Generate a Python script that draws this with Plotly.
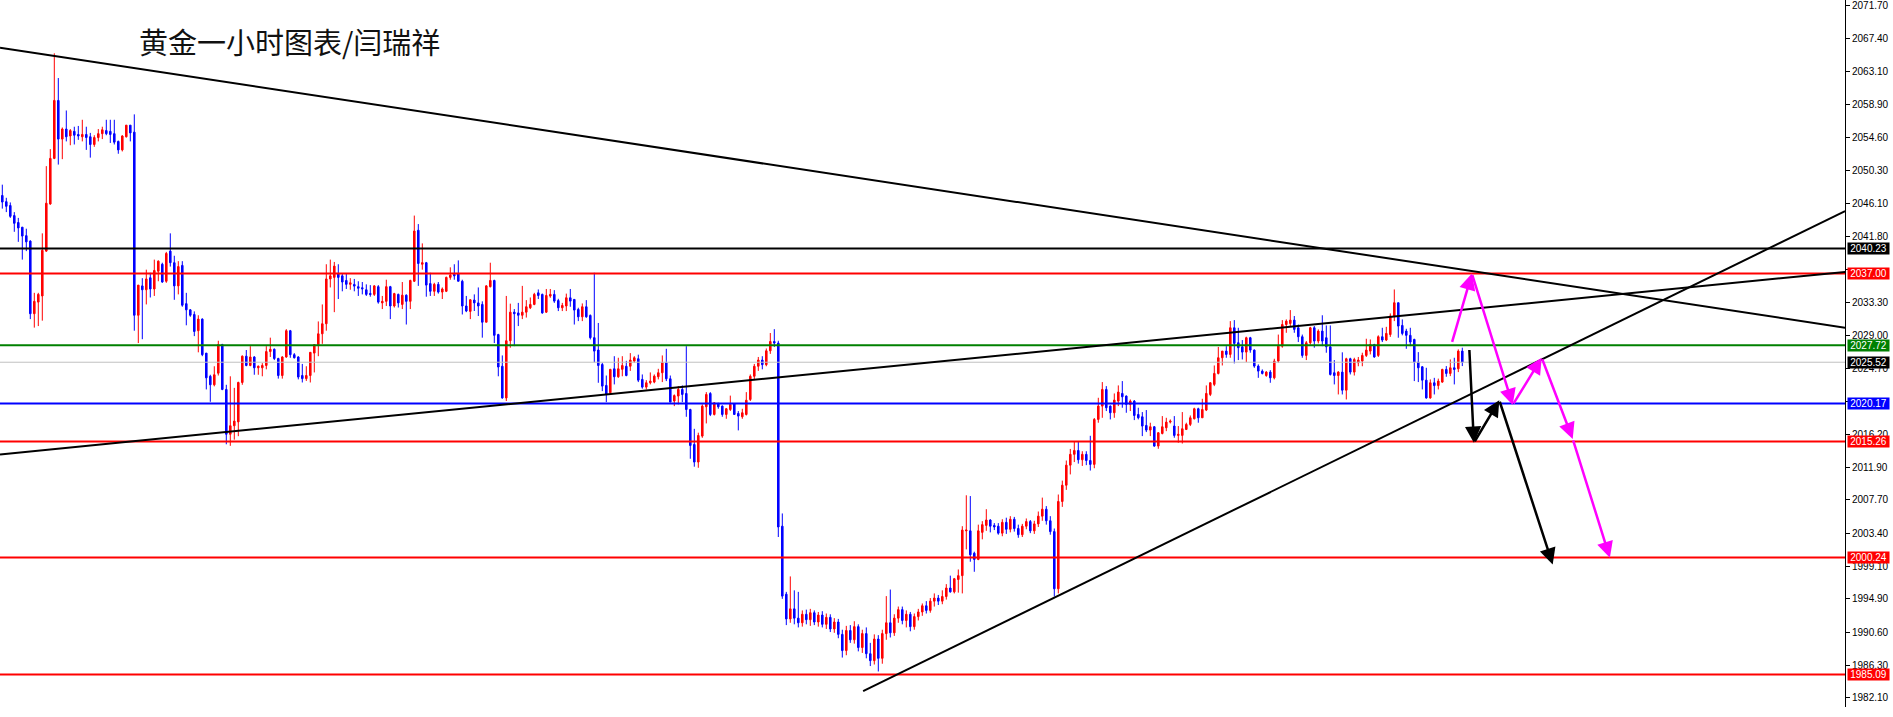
import plotly.graph_objects as go

# ---------------- candle data (hourly gold) ----------------
OPEN = [
 2047.1, 2046.3, 2045.8, 2044.5, 2043.6, 2043.0, 2041.9, 2041.2, 2031.8, 2033.3,
 2034.1, 2039.9, 2046.0, 2051.9, 2059.4, 2054.4, 2055.7, 2054.8, 2055.4, 2055.0,
 2054.7, 2055.0, 2054.7, 2053.7, 2054.6, 2055.1, 2055.5, 2055.4, 2055.1, 2054.1,
 2053.0, 2054.7, 2056.2, 2055.3, 2031.6, 2035.4, 2034.9, 2036.45, 2035.0, 2037.3,
 2038.2, 2036.0, 2039.9, 2038.4, 2035.4, 2038.05, 2033.1, 2032.3, 2031.7, 2029.6,
 2031.1, 2026.7, 2023.7, 2022.6, 2024.1, 2027.8, 2022.0, 2016.2, 2017.3, 2017.8,
 2022.9, 2026.3, 2025.1, 2026.2, 2024.8, 2024.8, 2025.1, 2026.9, 2027.2, 2026.0,
 2023.8, 2026.2, 2029.6, 2026.5, 2026.2, 2023.8, 2023.4, 2023.8, 2026.7, 2027.8,
 2029.2, 2030.5, 2036.3, 2036.5, 2037.0, 2036.7, 2036.1, 2035.6, 2035.59, 2035.3,
 2035.16, 2034.9, 2034.42, 2034.3, 2035.3, 2033.2, 2033.4, 2035.3, 2032.8, 2034.3,
 2033.0, 2034.2, 2033.4, 2036.0, 2042.6, 2038.2, 2038.4, 2035.7, 2034.7, 2035.6,
 2034.6, 2034.7, 2036.5, 2036.9, 2037.0, 2036.0, 2032.8, 2032.1, 2033.57, 2033.2,
 2033.0, 2030.7, 2035.3, 2036.1, 2029.1, 2025.0, 2020.9, 2028.3, 2032.0, 2031.9,
 2031.6, 2032.0, 2032.57, 2033.0, 2034.5, 2034.3, 2032.0, 2034.08, 2034.3, 2033.5,
 2032.57, 2032.8, 2033.86, 2033.65, 2032.35, 2031.4, 2032.7, 2031.58, 2028.7, 2027.1,
 2025.23, 2022.52, 2021.57, 2024.67, 2023.64, 2024.6, 2025.0, 2025.0, 2025.67, 2025.97,
 2023.3, 2022.3, 2022.86, 2022.95, 2023.64, 2024.16, 2025.45, 2023.38, 2020.5, 2021.14,
 2022.0, 2021.48, 2019.4, 2014.88, 2012.6, 2015.96, 2019.75, 2021.48, 2018.76, 2020.19,
 2019.84, 2018.76, 2019.4, 2020.14, 2018.9, 2018.46, 2018.76, 2020.7, 2023.7, 2025.0,
 2025.8, 2025.2, 2027.0, 2028.2, 2028.0, 2004.3, 1995.5, 1992.3, 1993.6, 1992.4,
 1991.8, 1992.9, 1992.2, 1993.1, 1991.9, 1992.8, 1991.6, 1992.5, 1991.0, 1991.9,
 1990.3, 1988.2, 1990.8, 1989.6, 1991.3, 1988.6, 1990.4, 1987.8, 1986.9, 1989.7,
 1987.2, 1990.4, 1991.8, 1990.5, 1992.4, 1993.5, 1992.1, 1992.9, 1991.3, 1992.6,
 1993.2, 1994.0, 1993.4, 1994.6, 1995.0, 1994.6, 1995.2, 1996.3, 1995.8, 1997.4,
 1997.9, 2003.7, 2003.7, 2000.8, 2000.0, 2003.5, 2004.4, 2005.1, 2004.4, 2004.3,
 2003.4, 2004.8, 2003.9, 2005.2, 2004.0, 2003.2, 2004.3, 2004.9, 2003.7, 2004.6,
 2005.6, 2006.5, 2005.0, 2003.6, 1996.2, 2007.5, 2009.6, 2012.2, 2013.6, 2014.1,
 2012.9, 2013.6, 2012.8, 2012.3, 2018.12, 2019.84, 2022.0, 2019.84, 2018.98, 2020.49,
 2021.48, 2021.14, 2020.06, 2020.49, 2018.76, 2018.46, 2017.34, 2016.74, 2017.17, 2014.67,
 2016.3, 2017.04, 2017.77, 2017.26, 2016.05, 2016.05, 2016.82, 2017.47, 2018.2, 2019.5,
 2018.33, 2019.33, 2021.35, 2022.65, 2024.07, 2026.1, 2026.96, 2026.53, 2029.98, 2028.04,
 2027.52, 2026.83, 2028.69, 2027.09, 2025.02, 2024.37, 2023.8, 2024.24, 2023.5, 2025.67,
 2027.6, 2030.4, 2030.54, 2030.97, 2029.98, 2028.82, 2026.4, 2028.04, 2029.98, 2028.26,
 2029.55, 2028.69, 2027.52, 2024.16, 2023.8, 2024.24, 2021.9, 2025.97, 2024.24, 2025.45,
 2025.67, 2026.4, 2026.96, 2027.8, 2026.4, 2028.82, 2028.39, 2029.1, 2031.5, 2033.22,
 2030.28, 2029.55, 2029.0, 2028.47, 2025.54, 2024.93, 2023.2, 2020.9, 2022.86, 2022.5,
 2022.95, 2024.59, 2024.07, 2024.8, 2024.67, 2026.96,
]
HIGH = [
 2048.5, 2046.8, 2046.2, 2044.95, 2044.2, 2043.0, 2042.8, 2041.3, 2034.5, 2034.5,
 2042.2, 2050.9, 2053.1, 2065.5, 2062.3, 2055.9, 2058.1, 2055.7, 2056.0, 2056.1,
 2056.9, 2056.0, 2055.2, 2054.9, 2055.7, 2056.0, 2056.9, 2056.9, 2056.9, 2054.2,
 2054.9, 2056.2, 2056.2, 2057.6, 2035.5, 2036.4, 2037.5, 2037.1, 2038.8, 2038.7,
 2038.4, 2039.8, 2042.2, 2039.3, 2038.6, 2038.6, 2034.5, 2032.4, 2032.1, 2031.6,
 2031.2, 2026.7, 2023.9, 2025.0, 2028.3, 2027.9, 2022.6, 2023.7, 2022.2, 2023.0,
 2026.4, 2027.1, 2027.6, 2026.3, 2025.1, 2025.4, 2027.6, 2028.7, 2027.3, 2026.1,
 2026.3, 2029.8, 2029.7, 2026.7, 2026.3, 2025.3, 2025.0, 2026.8, 2027.8, 2030.8,
 2033.0, 2038.2, 2038.8, 2038.5, 2038.2, 2037.0, 2037.0, 2036.4, 2036.3, 2036.0,
 2035.9, 2035.6, 2035.5, 2035.5, 2035.5, 2034.1, 2036.2, 2035.4, 2034.5, 2034.4,
 2035.9, 2034.3, 2036.2, 2044.5, 2043.4, 2040.9, 2038.5, 2037.1, 2035.8, 2035.9,
 2035.2, 2036.6, 2037.8, 2038.2, 2038.7, 2036.2, 2034.1, 2033.7, 2034.3, 2035.2,
 2033.4, 2035.5, 2038.4, 2036.2, 2029.2, 2026.4, 2034.1, 2033.1, 2032.4, 2033.2,
 2035.4, 2033.56, 2033.9, 2034.5, 2034.94, 2034.4, 2035.0, 2035.0, 2034.85, 2033.73,
 2033.2, 2034.4, 2035.0, 2033.7, 2032.57, 2033.13, 2033.56, 2031.7, 2037.1, 2030.6,
 2025.45, 2023.8, 2024.67, 2026.3, 2026.1, 2026.3, 2025.7, 2026.7, 2026.3, 2026.5,
 2023.94, 2023.2, 2024.2, 2023.94, 2024.67, 2026.4, 2027.26, 2023.8, 2021.35, 2022.43,
 2022.52, 2027.6, 2019.5, 2016.9, 2016.4, 2020.06, 2021.65, 2021.65, 2020.36, 2020.27,
 2019.93, 2019.6, 2021.2, 2020.19, 2019.2, 2019.5, 2021.65, 2023.94, 2025.3, 2026.2,
 2026.3, 2027.3, 2029.3, 2029.8, 2028.3, 2005.95, 1995.8, 1997.8, 1996.0, 1995.8,
 1993.4, 1993.5, 1993.6, 1993.4, 1993.2, 1993.3, 1993.0, 1992.9, 1992.4, 1992.3,
 1990.9, 1991.4, 1991.5, 1992.0, 1991.6, 1990.9, 1991.2, 1989.2, 1990.3, 1990.2,
 1990.9, 1995.25, 1996.1, 1992.9, 1993.9, 1993.9, 1993.4, 1993.2, 1993.0, 1993.6,
 1994.3, 1994.6, 1995.0, 1995.6, 1995.4, 1996.0, 1996.8, 1997.9, 1997.6, 1998.7,
 2004.3, 2008.3, 2008.2, 2001.0, 2004.5, 2004.95, 2006.5, 2005.2, 2004.7, 2004.7,
 2005.2, 2005.4, 2005.6, 2005.5, 2004.5, 2004.6, 2005.3, 2005.1, 2005.0, 2006.2,
 2008.0, 2006.9, 2005.6, 2004.0, 2008.4, 2010.2, 2012.8, 2014.3, 2015.2, 2015.2,
 2014.0, 2014.0, 2016.0, 2018.3, 2020.92, 2022.95, 2022.43, 2019.93, 2021.48, 2022.52,
 2023.08, 2021.22, 2020.7, 2020.62, 2019.63, 2019.07, 2019.33, 2017.69, 2017.26, 2016.48,
 2018.55, 2018.33, 2018.12, 2018.55, 2017.26, 2019.07, 2017.69, 2018.63, 2019.63, 2019.63,
 2020.79, 2022.52, 2022.95, 2025.1, 2027.5, 2026.96, 2027.6, 2030.84, 2030.97, 2029.98,
 2028.39, 2028.82, 2028.8, 2027.18, 2025.24, 2024.59, 2024.37, 2024.5, 2025.97, 2029.1,
 2030.97, 2031.06, 2032.27, 2031.5, 2030.4, 2029.1, 2028.26, 2030.1, 2030.2, 2029.77,
 2031.6, 2030.28, 2030.28, 2025.8, 2024.37, 2026.8, 2026.1, 2026.1, 2026.1, 2026.2,
 2026.75, 2028.56, 2028.47, 2027.9, 2029.0, 2029.98, 2030.1, 2031.84, 2034.94, 2033.22,
 2031.06, 2029.85, 2029.98, 2028.56, 2026.83, 2025.02, 2024.8, 2023.3, 2023.5, 2023.4,
 2024.67, 2025.02, 2025.88, 2026.1, 2027.18, 2027.4,
]
LOW = [
 2045.4, 2044.95, 2044.2, 2042.4, 2041.1, 2038.8, 2039.9, 2031.1, 2030.0, 2030.2,
 2030.9, 2039.8, 2045.9, 2051.8, 2051.1, 2051.8, 2054.1, 2053.6, 2053.7, 2054.3,
 2054.1, 2053.0, 2052.0, 2053.4, 2054.1, 2054.4, 2054.9, 2053.9, 2053.7, 2052.5,
 2052.8, 2054.6, 2054.1, 2029.6, 2028.0, 2028.5, 2033.0, 2033.9, 2034.1, 2036.0,
 2035.8, 2035.8, 2037.9, 2033.6, 2034.3, 2032.7, 2030.3, 2031.4, 2028.9, 2026.8,
 2026.3, 2022.0, 2020.4, 2022.4, 2023.8, 2021.9, 2014.9, 2014.7, 2015.5, 2015.95,
 2022.6, 2025.0, 2025.0, 2023.9, 2023.9, 2023.7, 2024.6, 2026.2, 2025.8, 2023.4,
 2023.4, 2026.1, 2026.1, 2026.0, 2023.3, 2022.9, 2023.1, 2022.9, 2024.2, 2026.3,
 2027.9, 2029.6, 2035.2, 2032.0, 2033.7, 2034.7, 2035.0, 2034.9, 2034.7, 2034.1,
 2034.3, 2034.1, 2034.0, 2034.1, 2033.1, 2032.4, 2032.8, 2031.1, 2032.6, 2032.6,
 2032.4, 2030.4, 2032.4, 2035.9, 2035.4, 2037.5, 2034.0, 2034.1, 2034.1, 2034.4,
 2033.7, 2034.6, 2036.2, 2036.2, 2036.0, 2031.7, 2032.0, 2031.1, 2032.15, 2031.5,
 2028.7, 2030.7, 2035.2, 2028.0, 2023.7, 2020.8, 2020.5, 2027.4, 2027.6, 2030.2,
 2031.1, 2031.3, 2032.4, 2032.9, 2033.7, 2031.8, 2031.9, 2033.86, 2033.2, 2032.14,
 2032.14, 2032.14, 2032.7, 2030.4, 2030.84, 2030.84, 2031.27, 2028.47, 2025.5, 2022.86,
 2021.78, 2020.36, 2021.35, 2022.65, 2023.5, 2023.7, 2023.7, 2024.4, 2025.45, 2022.95,
 2022.1, 2022.0, 2022.65, 2022.8, 2023.3, 2022.95, 2023.08, 2020.36, 2019.84, 2020.06,
 2020.36, 2018.46, 2013.03, 2012.0, 2011.86, 2015.74, 2017.6, 2018.55, 2018.63, 2019.5,
 2018.46, 2018.2, 2019.2, 2018.76, 2016.7, 2018.2, 2018.63, 2020.5, 2023.2, 2024.4,
 2024.6, 2025.0, 2026.6, 2027.5, 2002.9, 1994.9, 1991.5, 1991.8, 1991.6, 1991.2,
 1991.3, 1991.6, 1991.4, 1991.5, 1991.3, 1991.2, 1991.0, 1990.6, 1990.5, 1989.8,
 1987.3, 1987.6, 1989.2, 1989.1, 1988.1, 1987.9, 1987.2, 1986.2, 1986.4, 1985.5,
 1986.5, 1989.6, 1989.9, 1990.1, 1991.8, 1991.6, 1991.2, 1990.7, 1990.9, 1992.1,
 1992.7, 1993.0, 1993.1, 1993.9, 1994.1, 1994.2, 1994.8, 1995.7, 1995.6, 1995.7,
 1995.6, 2001.3, 1999.7, 1998.4, 1999.9, 2002.6, 2003.7, 2003.5, 2003.8, 2003.2,
 2003.0, 2003.3, 2003.5, 2003.6, 2002.8, 2002.9, 2003.9, 2003.4, 2003.3, 2004.2,
 2005.0, 2004.5, 2003.2, 1995.2, 1995.6, 2006.8, 2009.0, 2011.0, 2012.6, 2012.4,
 2012.1, 2012.2, 2011.5, 2011.8, 2017.69, 2018.33, 2019.2, 2018.12, 2018.33, 2019.84,
 2019.63, 2018.98, 2019.2, 2018.03, 2018.12, 2015.96, 2016.48, 2015.96, 2014.58, 2014.32,
 2016.18, 2016.6, 2017.6, 2015.75, 2015.1, 2015.0, 2016.74, 2017.26, 2018.12, 2017.69,
 2018.33, 2019.2, 2021.14, 2022.43, 2023.94, 2025.1, 2026.1, 2026.1, 2025.37, 2025.8,
 2025.88, 2025.54, 2026.75, 2024.8, 2023.5, 2023.94, 2023.64, 2022.86, 2023.3, 2025.45,
 2027.4, 2029.33, 2030.2, 2029.33, 2028.13, 2026.1, 2025.8, 2027.8, 2027.4, 2027.96,
 2027.6, 2026.75, 2023.8, 2022.65, 2021.35, 2021.35, 2020.7, 2023.94, 2023.8, 2025.0,
 2025.0, 2026.2, 2026.53, 2026.1, 2026.2, 2028.13, 2028.26, 2028.8, 2030.84, 2028.69,
 2029.0, 2027.26, 2027.6, 2023.08, 2022.95, 2022.0, 2020.8, 2020.8, 2021.35, 2022.0,
 2022.86, 2023.64, 2023.72, 2022.65, 2024.24, 2025.02,
]
CLOSE = [
 2046.25, 2045.7, 2044.4, 2043.5, 2042.9, 2041.85, 2041.1, 2031.8, 2033.4, 2034.3,
 2040.0, 2046.1, 2051.9, 2059.4, 2054.4, 2055.7, 2054.7, 2055.5, 2054.9, 2054.8,
 2055.0, 2054.6, 2053.7, 2054.6, 2055.1, 2055.6, 2055.1, 2055.0, 2054.0, 2053.0,
 2054.8, 2056.2, 2055.2, 2031.6, 2035.5, 2034.9, 2036.3, 2035.0, 2037.4, 2038.6,
 2035.9, 2039.6, 2038.4, 2035.4, 2037.9, 2032.9, 2032.3, 2031.6, 2029.5, 2031.1,
 2026.5, 2023.5, 2022.6, 2023.9, 2027.8, 2022.0, 2016.2, 2017.3, 2017.9, 2022.9,
 2026.3, 2025.1, 2026.2, 2024.8, 2025.0, 2025.1, 2026.9, 2027.2, 2026.0, 2023.8,
 2026.2, 2029.6, 2026.5, 2026.1, 2023.6, 2023.4, 2023.8, 2026.8, 2027.8, 2029.2,
 2030.5, 2036.3, 2036.7, 2037.96, 2036.5, 2035.9, 2035.6, 2035.8, 2035.37, 2035.1,
 2035.03, 2034.3, 2034.29, 2035.4, 2033.3, 2033.4, 2035.3, 2032.8, 2034.4, 2033.2,
 2034.2, 2033.4, 2036.1, 2042.5, 2038.3, 2038.4, 2035.5, 2034.7, 2035.6, 2034.6,
 2035.0, 2036.5, 2036.8, 2036.7, 2036.0, 2032.8, 2032.15, 2033.6, 2033.2, 2032.8,
 2030.7, 2035.4, 2036.1, 2029.0, 2024.9, 2020.9, 2028.3, 2032.0, 2031.8, 2031.6,
 2032.0, 2032.7, 2033.0, 2034.3, 2034.16, 2031.9, 2034.16, 2034.3, 2033.43, 2032.57,
 2032.87, 2033.86, 2033.43, 2032.27, 2031.4, 2032.7, 2031.4, 2028.7, 2026.96, 2025.1,
 2022.43, 2021.35, 2024.59, 2023.64, 2024.67, 2025.1, 2023.8, 2025.8, 2026.1, 2023.2,
 2022.3, 2022.86, 2023.08, 2023.72, 2024.16, 2025.45, 2023.38, 2020.36, 2021.2, 2022.0,
 2021.35, 2019.4, 2014.75, 2012.6, 2016.04, 2019.84, 2021.35, 2018.76, 2020.27, 2019.75,
 2018.76, 2019.5, 2020.06, 2018.76, 2018.55, 2018.98, 2020.6, 2023.7, 2025.0, 2025.8,
 2025.2, 2027.0, 2028.2, 2028.0, 2004.2, 1995.25, 1992.3, 1993.6, 1992.4, 1991.8,
 1992.9, 1992.2, 1993.1, 1991.9, 1992.8, 1991.6, 1992.5, 1991.0, 1991.9, 1990.3,
 1988.2, 1990.8, 1989.6, 1991.3, 1988.6, 1990.4, 1987.8, 1986.9, 1989.7, 1987.2,
 1990.4, 1991.8, 1990.5, 1992.4, 1993.5, 1992.1, 1992.9, 1991.3, 1992.6, 1993.2,
 1994.0, 1993.4, 1994.6, 1995.0, 1994.6, 1995.2, 1996.3, 1995.8, 1997.5, 1997.9,
 2003.8, 2003.8, 2000.6, 2000.0, 2003.7, 2004.5, 2005.1, 2004.3, 2004.2, 2003.4,
 2004.8, 2003.9, 2005.2, 2004.0, 2003.2, 2004.3, 2004.9, 2003.7, 2004.6, 2005.6,
 2006.5, 2005.0, 2003.6, 1996.2, 2007.5, 2009.6, 2012.2, 2013.6, 2014.1, 2012.9,
 2013.6, 2012.8, 2012.3, 2018.12, 2019.84, 2022.0, 2019.63, 2018.98, 2020.62, 2021.66,
 2021.05, 2020.06, 2020.49, 2018.63, 2018.33, 2017.26, 2016.74, 2017.17, 2014.67, 2016.39,
 2017.17, 2017.77, 2017.9, 2016.05, 2016.18, 2016.91, 2017.47, 2018.33, 2019.5, 2018.33,
 2019.41, 2021.48, 2022.86, 2024.07, 2026.1, 2026.96, 2026.53, 2029.98, 2027.96, 2027.4,
 2026.83, 2028.69, 2027.09, 2025.02, 2024.37, 2024.07, 2024.24, 2023.5, 2025.67, 2027.6,
 2030.4, 2030.84, 2030.97, 2029.77, 2028.82, 2026.4, 2028.04, 2029.98, 2028.26, 2029.55,
 2028.26, 2027.52, 2023.94, 2023.8, 2024.24, 2021.9, 2025.97, 2024.24, 2025.88, 2025.8,
 2026.4, 2027.09, 2027.8, 2026.2, 2028.82, 2028.39, 2029.25, 2031.5, 2033.22, 2030.2,
 2029.25, 2029.0, 2028.13, 2025.54, 2024.8, 2023.2, 2020.9, 2022.86, 2022.5, 2023.08,
 2024.59, 2024.07, 2024.8, 2024.59, 2026.96, 2025.52,
]

# ---------------- horizontal levels ----------------
LEVELS = [2040.23, 2037.00, 2027.72, 2025.52, 2020.17, 2015.26, 2000.24, 1985.09]
LEVEL_COLORS = ['#000000', '#FF0000', '#008000', '#C0C0C0', '#0000FF', '#FF0000', '#FF0000', '#FF0000']
LABEL_BG = ['#000000', '#FF0000', '#008000', '#000000', '#0000FF', '#FF0000', '#FF0000', '#FF0000']
LEVEL_WIDTHS = [2, 2, 2, 1, 2, 2, 2, 2]

# ---------------- price axis ticks ----------------
TICKS = [2071.70, 2067.40, 2063.10, 2058.90, 2054.60, 2050.30, 2046.10, 2041.80, 2037.50,
         2033.30, 2029.00, 2024.70, 2020.40, 2016.20, 2011.90, 2007.70, 2003.40, 1999.10,
         1994.90, 1990.60, 1986.30, 1982.10]
# tick texts that sit completely under a level label in the reference
HIDDEN_TICKS = [2037.50, 2020.40]

# ---------------- trend lines (bar index, price) ----------------
TREND_X0 = [-0.575, -0.575, 215.2]
TREND_Y0 = [2066.23, 2013.59, 1982.95]
TREND_X1 = [460.7, 460.7, 460.7]
TREND_Y1 = [2029.99, 2037.21, 2045.08]

# ---------------- projected paths (bar index, price) ----------------
MAGENTA_X = [362.35, 367.4, 377.6, 384.85, 392.6, 401.9]
MAGENTA_Y = [2027.96, 2037.0, 2020.0, 2026.1, 2015.6, 2000.2]
BLACK_X = [366.75, 367.9, 374.25, 387.6]
BLACK_Y = [2027.3, 2015.1, 2020.6, 1999.35]

TITLE = "黄金一小时图表/闫瑞祥"

idx = list(range(len(CLOSE)))

fig = go.Figure()
fig.add_trace(go.Candlestick(
    x=idx, open=OPEN, high=HIGH, low=LOW, close=CLOSE,
    increasing=dict(line=dict(color='#FF0000', width=1), fillcolor='#FF0000'),
    decreasing=dict(line=dict(color='#0000FF', width=1), fillcolor='#0000FF'),
    whiskerwidth=0, hoverinfo='skip', showlegend=False))

shapes = []
for lv, col, w in zip(LEVELS, LEVEL_COLORS, LEVEL_WIDTHS):
    shapes.append(dict(type='line', xref='paper', x0=0, x1=1, yref='y', y0=lv, y1=lv,
                       line=dict(color=col, width=w), layer='above'))
for x0, y0, x1, y1 in zip(TREND_X0, TREND_Y0, TREND_X1, TREND_Y1):
    shapes.append(dict(type='line', xref='x', yref='y', x0=x0, y0=y0, x1=x1, y1=y1,
                       line=dict(color='#000000', width=2), layer='above'))

annotations = []
for lv, bg in zip(LEVELS, LABEL_BG):
    annotations.append(dict(xref='paper', x=1, xanchor='left', xshift=2, yref='y', y=lv,
                            yanchor='middle', text=f'{lv:.2f}', showarrow=False,
                            font=dict(family='Liberation Sans, Arial', size=10, color='white'),
                            bgcolor=bg, borderpad=0, width=41, height=11))


def add_path(xs, ys, color, width):
    for i in range(len(xs) - 1):
        annotations.append(dict(xref='x', yref='y', axref='x', ayref='y',
                                x=xs[i + 1], y=ys[i + 1], ax=xs[i], ay=ys[i],
                                text='', showarrow=True, arrowhead=2, arrowsize=1.3,
                                arrowwidth=width, arrowcolor=color, standoff=0))


add_path(MAGENTA_X, MAGENTA_Y, '#FF00FF', 2.5)
add_path(BLACK_X, BLACK_Y, '#000000', 2.5)

annotations.append(dict(xref='paper', yref='paper', x=137 / 1845, y=1 - 41 / 707,
                        xanchor='left', yanchor='middle', text=TITLE, showarrow=False,
                        font=dict(family='Noto Sans CJK SC', size=29, color='#111111')))

tick_text = ['' if t in HIDDEN_TICKS else f'{t:.2f}' for t in TICKS]

fig.update_layout(
    width=1893, height=717,
    margin=dict(l=0, r=48, t=0, b=10),
    paper_bgcolor='white', plot_bgcolor='white',
    showlegend=False, boxgap=0.45,
    shapes=shapes, annotations=annotations,
    xaxis=dict(range=[-0.575, 460.675], visible=False, showgrid=False, zeroline=False,
               rangeslider=dict(visible=False), fixedrange=True),
    yaxis=dict(side='right', range=[1980.9, 2072.4], tickmode='array', tickvals=TICKS,
               ticktext=tick_text, ticks='outside', ticklen=4, ticklabeloverflow='allow',
               tickcolor='black', showline=True, linecolor='black', linewidth=1,
               showgrid=False, zeroline=False, fixedrange=True,
               tickfont=dict(family='Liberation Sans, Arial', size=10, color='black')),
)

fig.write_html("out.html", config={'displayModeBar': False},
               post_script="document.body.style.margin='0';")
